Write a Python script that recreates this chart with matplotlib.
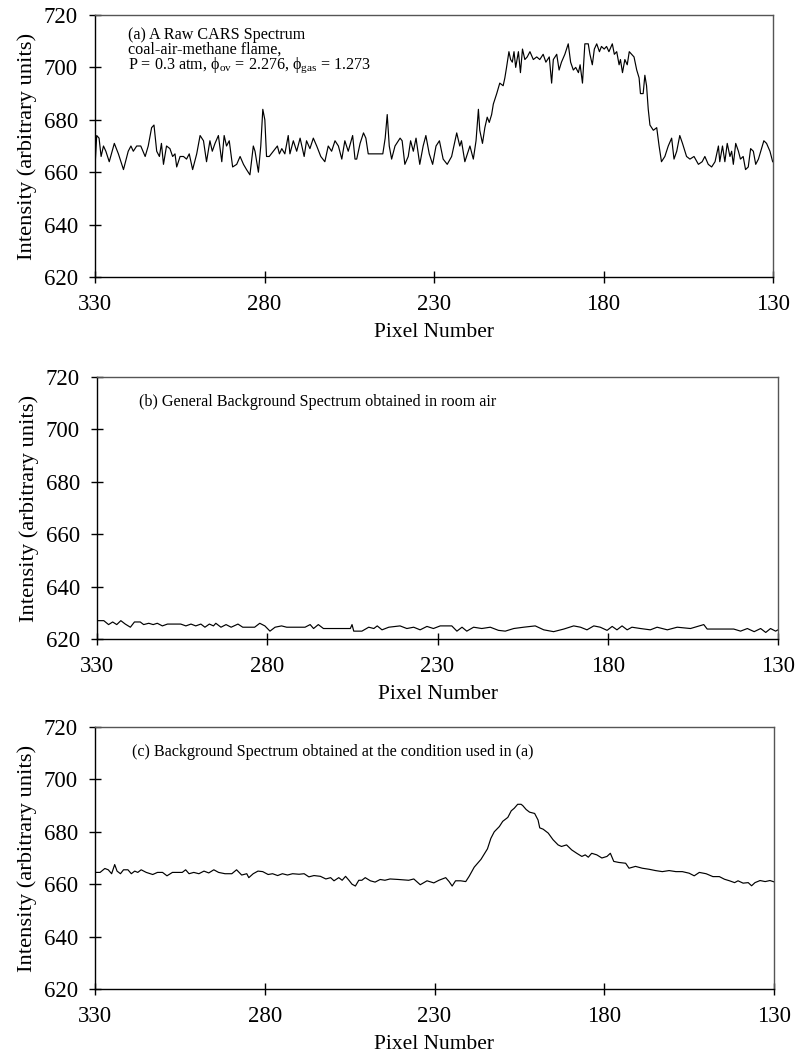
import matplotlib
matplotlib.use("Agg")
import matplotlib.pyplot as plt

plt.rcParams['font.family'] = ['Liberation Serif', 'DejaVu Serif']
plt.rcParams['mathtext.fontset'] = 'custom'
plt.rcParams['mathtext.rm'] = 'Liberation Serif'
plt.rcParams['mathtext.it'] = 'Liberation Serif:italic'

# ---- Panel (a): raw CARS spectrum ----
px_a = [330.0, 329.5, 328.8, 328.2, 327.5, 326.8, 325.8, 324.3, 323.1, 321.6,
        320.2, 319.4, 318.7, 317.7, 316.5, 315.2, 314.3, 313.3, 312.6, 311.8,
        311.0, 310.4, 309.8, 308.9, 307.9, 307.1, 306.4, 305.9, 304.9, 303.9,
        303.0, 302.2, 301.2, 300.0, 299.0, 298.0, 297.1, 296.1, 295.4, 294.6,
        293.6, 292.6, 291.9, 291.2, 290.4, 289.4, 288.2, 287.2, 286.2, 285.3,
        284.3, 283.3, 282.8, 281.8, 281.1, 280.5, 279.9, 279.4, 278.6, 277.4,
        276.2, 275.6, 274.9, 274.0, 273.0, 272.5, 271.5, 270.5, 269.5, 268.3,
        267.6, 266.6, 265.6, 264.6, 263.4, 262.2, 261.2, 260.2, 259.2, 258.2,
        257.2, 256.3, 255.3, 254.0, 253.3, 252.8, 251.8, 250.8, 250.1, 249.4,
        248.4, 246.9, 245.1, 244.4, 243.8, 243.2, 242.5, 241.5, 240.0, 239.4,
        238.6, 237.6, 236.9, 236.1, 235.3, 234.2, 233.2, 232.4, 231.4, 230.4,
        229.4, 228.4, 227.3, 226.1, 224.8, 223.3, 222.4, 221.9, 220.9, 219.9,
        219.4, 218.4, 217.6, 216.9, 216.5, 215.7, 215.0, 214.3, 213.7, 213.0,
        212.5, 211.5, 210.6, 209.6, 209.1, 208.6, 207.9, 207.4, 206.9, 206.4,
        205.9, 205.1, 204.5, 203.9, 203.2, 202.5, 201.7, 200.7, 199.7, 198.8,
        197.8, 197.0, 196.0, 195.3, 194.8, 193.8, 193.1, 192.4, 191.4, 190.4,
        189.7, 188.9, 188.2, 187.4, 186.9, 186.2, 185.5, 184.5, 184.0, 183.3,
        182.7, 182.0, 181.2, 180.6, 179.8, 179.1, 178.4, 177.4, 176.8, 176.1,
        175.4, 175.0, 174.4, 173.7, 173.0, 172.4, 171.7, 171.0, 170.2, 169.5,
        169.1, 168.3, 167.8, 167.3, 166.8, 166.3, 165.3, 164.3, 163.6, 162.9,
        161.9, 160.9, 159.9, 159.2, 158.4, 157.5, 156.7, 155.5, 154.5, 153.3,
        152.0, 150.9, 150.1, 149.1, 148.1, 147.1, 146.1, 145.7, 144.9, 144.2,
        143.5, 142.7, 142.2, 141.7, 141.0, 140.2, 139.6, 138.8, 138.1, 137.3,
        136.6, 135.8, 135.1, 134.3, 133.4, 132.7, 131.9, 130.9, 130.1]
int_a = [662, 674, 673, 666, 670, 668, 664, 671, 667, 661,
         668, 670, 668, 670, 670, 666, 670, 677, 678, 668,
         666, 671, 663, 670, 669, 666, 667, 662, 666, 666,
         665, 667, 661, 667, 674, 672, 664, 672, 668, 671,
         674, 664, 674, 670, 672, 662, 663, 666, 663, 661,
         659, 670, 668, 660, 670, 684, 680, 666, 666, 668,
         670, 667, 669, 667, 674, 667, 672, 668, 673, 666,
         672, 669, 673, 670, 666, 664, 670, 668, 672, 670,
         665, 672, 668, 674, 665, 665, 671, 675, 673, 667,
         667, 667, 667, 673, 682, 670, 665, 670, 673, 672,
         663, 666, 672, 668, 673, 663, 670, 674, 667, 663,
         670, 672, 665, 663, 666, 675, 670, 672, 664, 668,
         670, 665, 672, 684, 676, 671, 677, 681, 679, 682,
         686, 690, 694, 693, 696, 700, 706, 703, 702, 706,
         700, 706, 698, 707, 703, 704, 706, 703, 704, 703,
         705, 702, 704, 694, 703, 705, 699, 702, 705, 709,
         702, 699, 700, 698, 701, 694, 709, 709, 705, 701,
         707, 709, 706, 708, 707, 708, 706, 709, 705, 706,
         701, 703, 698, 703, 701, 706, 705, 704, 699, 696,
         690, 690, 697, 693, 684, 678, 676, 677, 670, 664,
         666, 670, 673, 665, 668, 674, 671, 666, 665, 666,
         663, 664, 666, 663, 662, 664, 670, 664, 670, 664,
         671, 666, 668, 663, 671, 668, 665, 666, 661, 662,
         669, 668, 663, 665, 669, 672, 671, 668, 664]

# ---- Panel (b): general background in room air ----
px_b = [330.0, 328.0, 326.6, 325.4, 324.2, 323.0, 321.7, 320.2, 319.0, 317.3,
        316.3, 314.8, 313.5, 312.3, 310.8, 309.3, 305.4, 303.9, 302.4, 301.0,
        299.5, 298.3, 297.0, 295.8, 295.1, 293.6, 292.1, 290.6, 288.6, 287.2,
        283.7, 282.2, 280.7, 279.2, 277.7, 275.8, 274.3, 268.9, 267.4, 266.4,
        265.0, 263.5, 261.5, 255.6, 255.1, 254.6, 252.2, 250.2, 248.7, 247.7,
        246.3, 244.3, 241.0, 239.0, 237.0, 235.1, 233.1, 231.2, 229.2, 225.8,
        224.3, 222.8, 221.4, 219.4, 217.0, 214.5, 212.1, 210.1, 207.6, 204.7,
        201.3, 198.8, 195.9, 192.9, 190.0, 188.0, 186.1, 184.1, 182.2, 180.2,
        178.7, 177.3, 175.8, 174.3, 172.9, 170.4, 167.5, 165.5, 162.5, 159.6,
        155.7, 151.8, 150.8, 145.9, 143.0, 141.0, 139.0, 137.0, 135.1, 133.6,
        132.2, 130.7, 130.0]
int_b = [627.0, 627.0, 625.5, 626.5, 625.5, 627.0, 625.7, 624.5, 626.5, 626.5,
         625.5, 626.0, 625.5, 626.0, 625.0, 625.7, 625.7, 625.0, 625.7, 625.0,
         625.7, 624.5, 625.7, 625.0, 626.0, 624.5, 625.5, 624.5, 625.7, 624.5,
         624.5, 626.0, 625.0, 623.0, 624.5, 625.0, 624.5, 624.5, 625.5, 624.0,
         625.5, 624.0, 624.0, 624.0, 625.5, 623.0, 623.0, 624.5, 624.0, 625.0,
         623.5, 624.5, 625.0, 624.0, 624.5, 623.5, 624.8, 624.0, 625.0, 625.0,
         623.0, 624.5, 623.0, 624.5, 624.0, 624.5, 623.3, 623.0, 624.0, 624.5,
         625.0, 623.5, 622.8, 623.8, 625.0, 624.5, 623.5, 625.0, 624.5, 623.3,
         624.8, 623.5, 625.0, 623.5, 624.5, 624.0, 623.5, 624.5, 623.5, 624.5,
         624.0, 625.5, 623.8, 623.8, 623.8, 623.0, 624.0, 622.8, 624.0, 622.5,
         624.0, 623.0, 623.5]

# ---- Panel (c): background at the flame condition ----
px_c = [330.0, 328.5, 327.1, 326.1, 325.1, 324.2, 323.5, 322.5, 321.6, 320.3,
        319.3, 318.3, 317.4, 316.4, 314.9, 313.0, 311.6, 310.1, 308.8, 307.2,
        304.3, 303.3, 302.3, 300.9, 299.4, 297.9, 296.5, 295.0, 293.6, 291.7,
        289.7, 288.3, 286.8, 285.3, 284.7, 283.4, 282.0, 280.6, 279.0, 277.7,
        276.2, 274.8, 273.3, 271.8, 269.9, 268.4, 267.0, 265.5, 263.6, 262.0,
        260.6, 259.6, 258.2, 257.2, 256.2, 255.2, 254.3, 253.3, 252.3, 251.4,
        250.4, 248.9, 247.5, 246.0, 244.6, 243.1, 240.6, 237.6, 236.1, 234.2,
        232.2, 230.2, 228.7, 226.7, 225.7, 224.8, 223.8, 222.3, 220.8, 219.8,
        218.3, 216.3, 214.4, 213.4, 212.4, 210.9, 209.9, 208.4, 207.4, 206.5,
        205.5, 204.5, 204.0, 203.0, 202.0, 200.5, 199.5, 199.0, 198.0, 196.5,
        195.1, 193.6, 192.6, 191.1, 189.6, 188.1, 186.6, 185.6, 184.7, 183.7,
        182.2, 180.7, 179.2, 178.2, 177.2, 175.7, 173.7, 172.7, 170.8, 168.8,
        166.8, 164.9, 162.9, 160.9, 158.9, 157.0, 155.0, 153.5, 152.0, 150.0,
        148.0, 146.1, 144.6, 143.1, 141.6, 140.6, 139.1, 137.6, 136.6, 135.6,
        134.1, 132.6, 131.2, 130.0]
int_c = [664.5, 664.5, 666.0, 665.5, 664.0, 667.5, 665.0, 664.0, 665.5, 665.5,
         664.0, 665.0, 664.5, 665.5, 664.5, 663.7, 664.5, 664.5, 663.2, 664.5,
         664.5, 665.5, 664.0, 664.5, 664.0, 665.0, 664.3, 665.5, 664.5, 664.0,
         664.0, 665.5, 663.5, 664.0, 662.5, 664.0, 665.0, 664.8, 663.7, 664.0,
         663.3, 664.0, 663.5, 664.0, 663.8, 664.0, 662.8, 663.3, 663.0, 662.0,
         662.5, 661.3, 662.5, 661.5, 663.0, 661.5, 660.0, 659.3, 661.5, 661.5,
         662.5, 661.3, 660.8, 661.8, 661.5, 662.0, 661.8, 661.5, 662.0, 659.8,
         661.3, 660.5, 661.5, 662.5, 661.0, 659.3, 661.3, 661.3, 661.0, 663.0,
         666.5, 669.5, 673.5, 677.5, 680.0, 682.0, 684.0, 685.5, 688.0, 689.0,
         690.5, 690.5, 690.0, 688.5, 687.5, 687.0, 684.5, 681.5, 681.0, 679.5,
         677.0, 675.0, 674.4, 675.0, 673.1, 671.8, 670.6, 671.2, 670.3, 671.8,
         671.2, 670.0, 670.6, 671.8, 668.7, 668.3, 668.0, 666.1, 666.8, 666.1,
         665.7, 665.2, 664.8, 665.2, 664.8, 664.8, 664.2, 663.2, 664.5, 664.0,
         662.9, 662.9, 661.9, 661.3, 660.6, 661.3, 660.4, 660.6, 659.4, 660.6,
         661.4, 661.0, 661.4, 660.9]

x_ticks = [330, 280, 230, 180, 130]
y_ticks = [620, 640, 660, 680, 700, 720]
x_label = "Pixel Number"
y_label = "Intensity (arbitrary units)"

W, H = 795, 1059
fig = plt.figure(figsize=(W / 100, H / 100), dpi=100)

boxes = [(95, 773, 15, 277), (97, 778, 377, 639), (95, 774, 727, 989)]
series = [(px_a, int_a), (px_b, int_b), (px_c, int_c)]
axes = []
for (l, r, t, b), (xs, ys) in zip(boxes, series):
    ax = fig.add_axes([l / W, 1 - b / H, (r - l) / W, (b - t) / H])
    ax.plot(xs, ys, color='black', lw=0.85)
    ax.set_xlim(330, 130)
    ax.set_ylim(620, 720)
    ax.set_xticks(x_ticks)
    ax.set_yticks(y_ticks)
    ax.tick_params(direction='inout', length=8.5, width=1, labelsize=16.5,
                   top=False, right=False, colors='black')
    ax.tick_params(axis='x', pad=8)
    ax.tick_params(axis='y', pad=8)
    for s in ('top', 'right'):
        ax.spines[s].set_color('#555555')
        ax.spines[s].set_linewidth(1.0)
    for s in ('left', 'bottom'):
        ax.spines[s].set_color('black')
        ax.spines[s].set_linewidth(1.0)
    ax.set_xlabel(x_label, fontsize=15.5, labelpad=6)
    ax.set_ylabel(y_label, fontsize=16.2, labelpad=5)
    axes.append(ax)

axes[0].text(0.049, 0.955,
             "(a) A Raw CARS Spectrum\ncoal-air-methane flame,\n"
             r"P = 0.3 atm, ϕ$_{\mathrm{ov}}$ = 2.276, ϕ$_{\mathrm{gas}}$ = 1.273",
             transform=axes[0].transAxes, ha='left', va='top', fontsize=11.6,
             linespacing=0.88)
axes[1].text(0.062, 0.905, "(b) General Background Spectrum obtained in room air",
             transform=axes[1].transAxes, ha='left', va='center', fontsize=11.6)
axes[2].text(0.055, 0.905, "(c) Background Spectrum obtained at the condition used in (a)",
             transform=axes[2].transAxes, ha='left', va='center', fontsize=11.6)

fig.savefig("out.png", dpi=100)
